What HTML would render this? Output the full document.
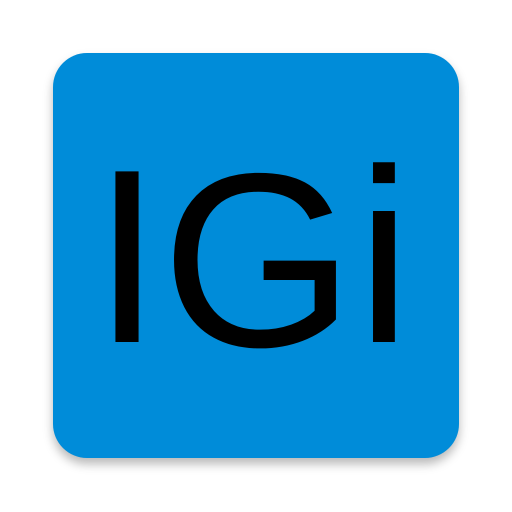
<!DOCTYPE html>
<html>
<head>
<meta charset="utf-8">
<style>
  html,body{margin:0;padding:0;width:512px;height:512px;background:#fff;overflow:hidden;}
  #icon{position:absolute;left:53px;top:53px;width:406px;height:405px;border-radius:34px;background:#008CD9;
        box-shadow:0 6px 10px rgba(0,0,0,0.28);}
  svg{position:absolute;left:0;top:0;}
</style>
</head>
<body>
<div id="icon"></div>
<svg width="512" height="512">
  <g font-family="'Liberation Sans', 'DejaVu Sans', sans-serif" font-size="248" fill="#000" text-anchor="middle">
    <text x="127" y="342">I</text>
    <text x="258" y="346">G</text>
    <text x="384" y="342">i</text>
  </g>
</svg>
</body>
</html>
